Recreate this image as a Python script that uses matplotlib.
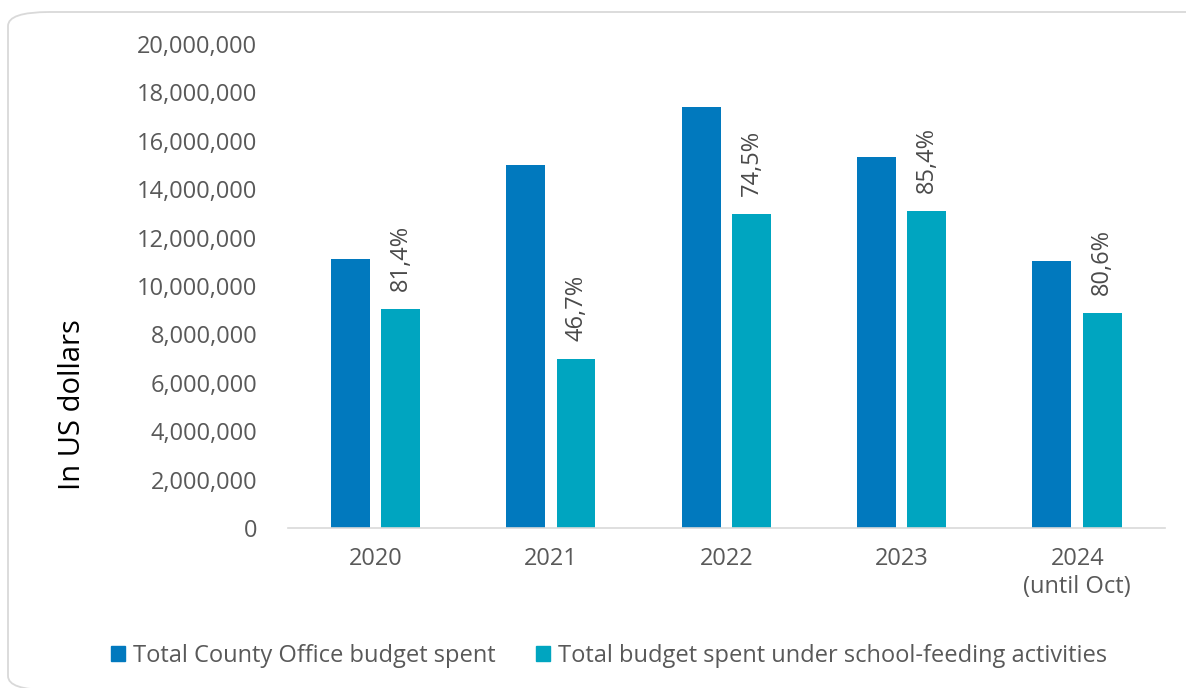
import matplotlib.pyplot as plt
import numpy as np
from matplotlib.patches import FancyBboxPatch, Patch

plt.rcParams['font.family'] = ['Open Sans', 'DejaVu Sans']

years = ["2020", "2021", "2022", "2023", "2024\n(until Oct)"]
county_spent = [11120000, 15000000, 17400000, 15330000, 11030000]
feeding_spent = [9050000, 7000000, 12960000, 13090000, 8890000]
shares = ["81,4%", "46,7%", "74,5%", "85,4%", "80,6%"]

blue = "#0179BE"
teal = "#00A5C0"
grey = "#595959"

W, H = 1186, 688
fig = plt.figure(figsize=(W / 100, H / 100), dpi=100)

# rounded card behind the chart (runs off the right edge)
card = FancyBboxPatch((8 / W, 1 - 690 / H), 1240 / W, 678 / H,
                      boxstyle="round,pad=0,rounding_size=0.035",
                      transform=fig.transFigure, facecolor="white",
                      edgecolor="#D9D9D9", linewidth=1.3, mutation_aspect=H / W,
                      zorder=-5)
fig.patches.append(card)

ax = fig.add_axes([288 / W, 1 - 528 / H, 877 / W, 484 / H])
ax.set_facecolor("none")

x = np.arange(len(years))
w = 0.222
ax.bar(x - 0.145, county_spent, w, color=blue)
bars = ax.bar(x + 0.142, feeding_spent, w, color=teal)

for b, s in zip(bars, shares):
    ax.annotate(s, (b.get_x() + b.get_width() / 2, b.get_height()),
                xytext=(0, 13), textcoords="offset points",
                rotation=90, ha="center", va="bottom",
                fontsize=17, color="#4a4a4a")

ax.set_xlim(-0.5, 4.5)
ax.set_ylim(0, 20000000)
ax.set_yticks(np.arange(0, 20000001, 2000000))
ax.yaxis.set_major_formatter(plt.FuncFormatter(lambda v, p: f"{int(v):,}"))
ax.set_xticks(x)
ax.set_xticklabels(years)
ax.tick_params(axis="both", length=0, labelsize=17, labelcolor=grey)
ax.tick_params(axis="x", pad=14)
ax.tick_params(axis="y", pad=22)

for side in ["top", "right", "left"]:
    ax.spines[side].set_visible(False)
ax.spines["bottom"].set_color("#D9D9D9")
ax.spines["bottom"].set_linewidth(1.2)

fig.text(72 / W, 1 - 405 / H, "In US dollars", rotation=90,
         ha="center", va="center", fontsize=21, color="black")

handles = [Patch(color=blue, label="Total County Office budget spent"),
           Patch(color=teal, label="Total budget spent under school-feeding activities")]
fig.legend(handles=handles, loc="center", bbox_to_anchor=(609 / W, 1 - 656 / H),
           ncol=2, frameon=False, fontsize=17, labelcolor=grey,
           handlelength=0.6, handleheight=0.6, handletextpad=0.35, columnspacing=1.7)

fig.savefig("out.png", dpi=100)
